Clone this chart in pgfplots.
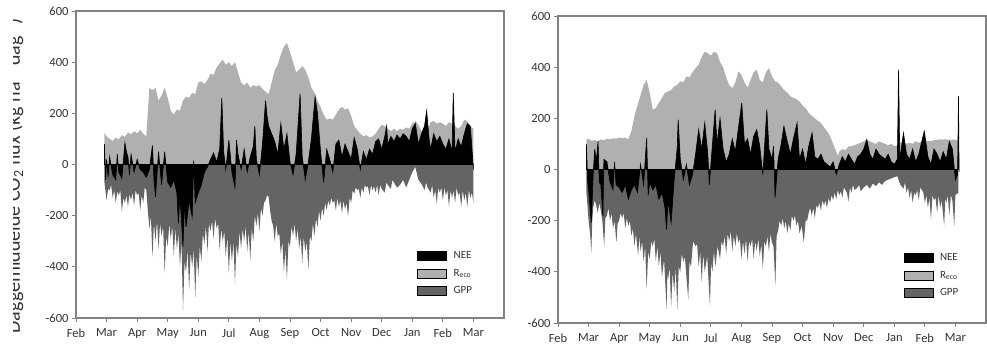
\documentclass[border=0pt]{standalone}
\usepackage{pgfplots}
\pgfplotsset{compat=1.18}
\usepackage{fontspec}
\setmainfont{Carlito}
\definecolor{reco}{RGB}{176,176,176}
\definecolor{gpp}{RGB}{100,100,100}
\definecolor{axgray}{RGB}{130,130,130}
\definecolor{txt}{RGB}{50,50,50}
\pgfplotsset{
  panel/.style={
    scale only axis, width=428pt, height=307pt,
    xmin=0, xmax=14, ymin=-600, ymax=600,
    xtick={0,...,13},
    xticklabels={Feb,Mar,Apr,May,Jun,Jul,Aug,Sep,Oct,Nov,Dec,Jan,Feb,Mar},
    ytick={-600,-400,...,600},
    axis line style={axgray, line width=1.3pt},
    tick style={axgray, line width=0.9pt},
    tick align=outside, major tick length=4pt,
    xtick pos=bottom, ytick pos=left,
    ticklabel style={font=\fontsize{12.5}{14}\selectfont, text=txt},
    /pgf/number format/assume math mode=true,
    xticklabel style={yshift=-3pt},
    legend style={draw=none, fill=none, font=\fontsize{11}{12}\selectfont, text=txt,
      row sep=5pt, column sep=5pt, cells={anchor=west}},
    legend image code/.code={\fill[##1] (0pt,-4.5pt) rectangle (29pt,4.5pt);},
  }
}
\begin{document}
\begin{tikzpicture}
\path[use as bounding box] (0,0) rectangle (987pt,353pt);
\begin{scope}
\clip (13pt,0pt) rectangle (60pt,353pt);
\node[rotate=90, anchor=base, font=\fontsize{20}{24}\selectfont, text=txt] at (20pt,177pt)
  {Daggemiddelde CO\textsubscript{2} flux (kg ha\textsuperscript{-1} dag\textsuperscript{-1})};
\end{scope}
% ---------------- left panel ----------------
\begin{axis}[panel, at={(76pt,35pt)}, anchor=south west,
  legend style={at={(0.79,0.06)}, anchor=south west}]
\addplot[fill=reco, draw=none, forget plot] coordinates {
(0.93,122)(1.0,110)(1.1,100)(1.2,92)(1.3,105)(1.4,98)(1.5,115)(1.6,108)(1.7,125)(1.8,118)(1.9,130)(2.0,122)(2.1,135)(2.2,120)(2.3,110)(2.4,300)(2.5,290)(2.6,300)(2.7,250)(2.8,270)(2.9,300)(3.0,260)(3.1,210)(3.2,195)(3.3,215)(3.4,210)(3.5,250)(3.6,265)(3.7,260)(3.8,280)(3.9,275)(4.0,320)(4.1,325)(4.2,315)(4.3,330)(4.4,355)(4.5,350)(4.6,380)(4.7,395)(4.8,410)(4.9,390)(5.0,400)(5.1,385)(5.2,400)(5.3,360)(5.4,320)(5.5,310)(5.6,320)(5.7,300)(5.8,310)(5.9,305)(6.0,310)(6.1,295)(6.2,285)(6.3,275)(6.4,320)(6.5,370)(6.6,390)(6.7,430)(6.8,460)(6.9,475)(7.0,440)(7.1,400)(7.2,360)(7.3,370)(7.4,385)(7.5,370)(7.6,340)(7.7,300)(7.8,280)(7.9,250)(8.0,225)(8.1,195)(8.2,175)(8.3,180)(8.4,175)(8.5,195)(8.6,215)(8.7,225)(8.8,215)(8.9,220)(9.0,190)(9.1,150)(9.2,135)(9.3,120)(9.4,110)(9.5,115)(9.6,105)(9.7,110)(9.8,120)(9.9,140)(10.0,155)(10.1,150)(10.2,140)(10.3,130)(10.4,140)(10.5,130)(10.6,140)(10.7,135)(10.8,145)(10.9,140)(11.0,160)(11.1,170)(11.2,155)(11.3,130)(11.4,140)(11.5,135)(11.6,165)(11.7,170)(11.8,160)(11.9,165)(12.0,160)(12.1,150)(12.2,165)(12.3,160)(12.4,150)(12.5,140)(12.6,150)(12.7,175)(12.8,170)(12.9,150)(13.0,140)
} \closedcycle;
\addplot[fill=gpp, draw=none, forget plot] coordinates {
(0.93,-70)(0.97,-110)(1.0,-140)(1.05,-95)(1.1,-100)(1.15,-80)(1.2,-130)(1.25,-100)(1.3,-150)(1.35,-105)(1.4,-120)(1.45,-100)(1.5,-185)(1.55,-130)(1.6,-150)(1.65,-120)(1.7,-165)(1.75,-115)(1.8,-140)(1.85,-110)(1.9,-160)(1.95,-100)(2.0,-120)(2.05,-110)(2.1,-180)(2.15,-120)(2.2,-150)(2.25,-90)(2.3,-100)(2.35,-180)(2.4,-250)(2.45,-200)(2.5,-360)(2.55,-230)(2.6,-300)(2.65,-220)(2.7,-330)(2.75,-230)(2.8,-280)(2.85,-240)(2.9,-425)(2.95,-280)(3.0,-320)(3.05,-230)(3.1,-290)(3.15,-240)(3.2,-360)(3.25,-250)(3.3,-330)(3.35,-270)(3.4,-400)(3.45,-300)(3.5,-570)(3.55,-380)(3.6,-420)(3.65,-330)(3.7,-490)(3.75,-340)(3.8,-400)(3.85,-330)(3.9,-520)(3.95,-350)(4.0,-440)(4.05,-320)(4.1,-380)(4.15,-270)(4.2,-310)(4.25,-240)(4.3,-340)(4.35,-230)(4.4,-260)(4.45,-220)(4.5,-290)(4.55,-210)(4.6,-250)(4.65,-230)(4.7,-335)(4.75,-250)(4.8,-300)(4.85,-260)(4.9,-360)(4.95,-280)(5.0,-425)(5.05,-300)(5.1,-380)(5.15,-300)(5.2,-465)(5.25,-310)(5.3,-360)(5.35,-260)(5.4,-330)(5.45,-250)(5.5,-300)(5.55,-240)(5.6,-340)(5.65,-260)(5.7,-375)(5.75,-250)(5.8,-300)(5.85,-200)(5.9,-240)(5.95,-190)(6.0,-260)(6.05,-170)(6.1,-200)(6.15,-150)(6.2,-140)(6.25,-120)(6.3,-126)(6.35,-180)(6.4,-220)(6.45,-240)(6.5,-300)(6.55,-230)(6.6,-280)(6.65,-270)(6.7,-350)(6.75,-300)(6.8,-420)(6.85,-330)(6.9,-450)(6.95,-300)(7.0,-320)(7.05,-240)(7.1,-280)(7.15,-230)(7.2,-300)(7.25,-250)(7.3,-330)(7.35,-280)(7.4,-386)(7.45,-280)(7.5,-340)(7.55,-300)(7.6,-412)(7.65,-280)(7.7,-300)(7.75,-230)(7.8,-280)(7.85,-210)(7.9,-245)(7.95,-180)(8.0,-220)(8.05,-170)(8.1,-200)(8.15,-150)(8.2,-178)(8.25,-140)(8.3,-160)(8.35,-130)(8.4,-150)(8.45,-140)(8.5,-180)(8.55,-130)(8.6,-165)(8.65,-140)(8.7,-190)(8.75,-140)(8.8,-175)(8.85,-150)(8.9,-204)(8.95,-130)(9.0,-150)(9.05,-100)(9.1,-115)(9.15,-90)(9.2,-100)(9.25,-95)(9.3,-130)(9.35,-90)(9.4,-110)(9.45,-80)(9.5,-90)(9.55,-85)(9.6,-120)(9.65,-80)(9.7,-100)(9.75,-85)(9.8,-110)(9.85,-80)(9.9,-120)(9.95,-80)(10.0,-95)(10.1,-110)(10.15,-70)(10.2,-80)(10.3,-95)(10.35,-60)(10.4,-70)(10.5,-90)(10.6,-80)(10.7,-60)(10.8,-90)(10.9,-60)(11.0,-30)(11.1,-10)(11.2,-60)(11.3,-75)(11.4,-100)(11.45,-70)(11.5,-90)(11.6,-110)(11.65,-80)(11.7,-130)(11.75,-100)(11.8,-152)(11.85,-90)(11.9,-110)(11.95,-90)(12.0,-140)(12.05,-90)(12.1,-120)(12.15,-100)(12.2,-165)(12.25,-100)(12.3,-130)(12.35,-100)(12.4,-150)(12.45,-90)(12.5,-120)(12.55,-110)(12.6,-165)(12.65,-100)(12.7,-140)(12.75,-110)(12.8,-165)(12.85,-100)(12.9,-130)(12.95,-110)(13.0,-150)
} \closedcycle;
\addplot[fill=black, draw=black, line width=0.6pt, forget plot] coordinates {
(0.93,80)(0.97,-60)(1.0,20)(1.05,-50)(1.1,30)(1.2,-40)(1.3,-60)(1.35,40)(1.4,-30)(1.5,-55)(1.6,85)(1.65,50)(1.7,30)(1.75,-40)(1.8,40)(1.9,-30)(2.0,20)(2.1,-20)(2.2,-30)(2.3,-50)(2.4,-20)(2.5,75)(2.55,-60)(2.6,-126)(2.7,50)(2.8,-80)(2.9,50)(3.0,-70)(3.1,-90)(3.2,-60)(3.3,-110)(3.35,-230)(3.4,-120)(3.5,-321)(3.55,-150)(3.6,-245)(3.7,-140)(3.8,-205)(3.85,15)(3.9,-150)(4.0,-110)(4.1,-80)(4.2,-30)(4.3,-10)(4.4,20)(4.5,45)(4.6,10)(4.7,60)(4.77,260)(4.83,50)(4.9,-20)(5.0,95)(5.1,-30)(5.2,-90)(5.25,95)(5.3,40)(5.4,-20)(5.5,60)(5.6,-30)(5.7,30)(5.8,70)(5.85,150)(5.9,20)(6.0,-40)(6.1,80)(6.2,250)(6.25,190)(6.3,150)(6.4,120)(6.5,90)(6.6,40)(6.7,160)(6.8,60)(6.9,120)(7.0,10)(7.1,-40)(7.2,40)(7.33,277)(7.4,30)(7.5,-60)(7.6,10)(7.7,100)(7.82,265)(7.9,200)(8.0,50)(8.1,-70)(8.2,60)(8.3,20)(8.4,-30)(8.5,80)(8.6,95)(8.7,30)(8.8,80)(8.9,50)(9.0,20)(9.1,105)(9.2,60)(9.3,-20)(9.4,50)(9.5,20)(9.6,60)(9.7,40)(9.8,90)(9.9,100)(10.0,60)(10.1,110)(10.16,150)(10.2,80)(10.3,110)(10.4,90)(10.5,115)(10.6,100)(10.7,120)(10.8,110)(10.9,90)(11.0,140)(11.1,160)(11.2,80)(11.3,120)(11.4,150)(11.47,210)(11.55,100)(11.6,60)(11.7,120)(11.8,90)(11.9,110)(12.0,80)(12.1,60)(12.2,100)(12.3,50)(12.34,280)(12.4,50)(12.5,100)(12.6,70)(12.7,120)(12.8,160)(12.9,150)(13.0,-20)
} \closedcycle;
\addlegendimage{fill=black}\addlegendentry{NEE}
\addlegendimage{fill=reco}\addlegendentry{R\textsubscript{eco}}
\addlegendimage{fill=gpp}\addlegendentry{GPP}
\end{axis}
% ---------------- right panel ----------------
\begin{axis}[panel, at={(558pt,30pt)}, anchor=south west,
  legend style={at={(0.80,0.07)}, anchor=south west}]
\addplot[fill=reco, draw=none, forget plot] coordinates {
(0.93,117)(1.0,120)(1.1,112)(1.2,115)(1.3,110)(1.4,118)(1.5,115)(1.6,120)(1.7,118)(1.8,122)(1.9,120)(2.0,125)(2.1,122)(2.2,125)(2.3,118)(2.4,150)(2.5,208)(2.6,250)(2.7,290)(2.8,330)(2.9,350)(3.0,300)(3.1,234)(3.2,240)(3.3,260)(3.4,280)(3.5,300)(3.6,305)(3.7,310)(3.8,325)(3.9,330)(4.0,345)(4.1,340)(4.2,364)(4.3,360)(4.4,380)(4.5,396)(4.6,410)(4.7,440)(4.8,460)(4.9,455)(5.0,445)(5.1,460)(5.2,455)(5.3,420)(5.4,400)(5.5,360)(5.6,330)(5.7,318)(5.8,340)(5.9,383)(6.0,370)(6.1,340)(6.2,320)(6.3,350)(6.4,380)(6.5,390)(6.6,350)(6.7,340)(6.8,380)(6.9,396)(7.0,364)(7.1,345)(7.2,340)(7.3,325)(7.4,310)(7.5,300)(7.6,286)(7.7,280)(7.8,275)(7.9,265)(8.0,250)(8.1,240)(8.2,221)(8.3,210)(8.4,200)(8.5,190)(8.6,182)(8.7,165)(8.8,150)(8.9,130)(9.0,100)(9.1,70)(9.15,52)(9.2,70)(9.3,80)(9.4,75)(9.5,90)(9.6,91)(9.7,95)(9.8,100)(9.9,104)(10.0,110)(10.1,117)(10.2,110)(10.3,105)(10.4,100)(10.5,110)(10.6,105)(10.7,100)(10.8,95)(10.9,100)(11.0,92)(11.1,91)(11.2,105)(11.3,110)(11.4,100)(11.5,105)(11.6,100)(11.7,110)(11.8,105)(11.9,108)(12.0,110)(12.1,112)(12.2,110)(12.3,115)(12.4,115)(12.5,118)(12.6,117)(12.7,118)(12.8,115)(12.9,117)(13.0,117)(13.1,110)
} \closedcycle;
\addplot[fill=gpp, draw=none, forget plot] coordinates {
(0.93,-91)(0.97,-150)(1.0,-200)(1.05,-250)(1.09,-325)(1.12,-200)(1.15,-150)(1.2,-120)(1.25,-140)(1.3,-170)(1.35,-130)(1.4,-160)(1.45,-200)(1.51,-300)(1.55,-190)(1.6,-180)(1.65,-150)(1.7,-200)(1.75,-170)(1.8,-230)(1.85,-200)(1.91,-286)(1.95,-210)(2.0,-200)(2.05,-170)(2.1,-190)(2.15,-170)(2.2,-230)(2.25,-190)(2.3,-220)(2.35,-200)(2.4,-260)(2.45,-230)(2.5,-300)(2.55,-250)(2.62,-338)(2.66,-260)(2.7,-320)(2.75,-280)(2.8,-360)(2.85,-300)(2.9,-468)(2.95,-320)(3.0,-350)(3.05,-280)(3.1,-300)(3.15,-270)(3.2,-360)(3.25,-300)(3.3,-380)(3.35,-320)(3.4,-420)(3.47,-350)(3.55,-546)(3.58,-400)(3.6,-430)(3.65,-380)(3.7,-540)(3.75,-400)(3.8,-480)(3.85,-380)(3.9,-546)(3.95,-380)(4.0,-400)(4.05,-330)(4.1,-360)(4.15,-340)(4.2,-420)(4.26,-507)(4.3,-360)(4.35,-380)(4.42,-280)(4.5,-300)(4.55,-290)(4.6,-380)(4.65,-320)(4.7,-440)(4.75,-330)(4.8,-400)(4.88,-340)(4.97,-533)(5.01,-360)(5.05,-400)(5.1,-320)(5.15,-380)(5.22,-300)(5.3,-350)(5.35,-280)(5.4,-300)(5.45,-260)(5.5,-330)(5.55,-250)(5.6,-280)(5.65,-240)(5.7,-320)(5.75,-260)(5.8,-300)(5.85,-250)(5.9,-286)(5.95,-270)(6.0,-350)(6.05,-280)(6.1,-330)(6.15,-270)(6.2,-360)(6.25,-280)(6.3,-300)(6.35,-270)(6.4,-350)(6.45,-280)(6.5,-320)(6.55,-270)(6.6,-340)(6.65,-290)(6.7,-390)(6.75,-280)(6.8,-300)(6.85,-260)(6.9,-320)(6.95,-250)(7.0,-286)(7.05,-300)(7.11,-455)(7.15,-260)(7.2,-240)(7.25,-200)(7.3,-220)(7.35,-190)(7.4,-230)(7.45,-200)(7.5,-250)(7.55,-210)(7.6,-240)(7.65,-180)(7.7,-200)(7.75,-180)(7.8,-220)(7.85,-200)(7.9,-250)(7.97,-220)(8.04,-286)(8.1,-200)(8.15,-200)(8.2,-169)(8.25,-150)(8.3,-180)(8.35,-150)(8.4,-190)(8.45,-140)(8.5,-150)(8.55,-130)(8.6,-160)(8.65,-120)(8.7,-140)(8.75,-120)(8.8,-150)(8.85,-110)(8.9,-130)(8.95,-100)(9.0,-120)(9.05,-90)(9.1,-117)(9.15,-80)(9.2,-100)(9.25,-85)(9.3,-110)(9.35,-70)(9.4,-80)(9.45,-90)(9.5,-125)(9.55,-70)(9.6,-90)(9.65,-60)(9.7,-80)(9.8,-70)(9.85,-60)(9.9,-85)(10.0,-70)(10.1,-60)(10.2,-75)(10.3,-55)(10.4,-65)(10.5,-50)(10.6,-60)(10.7,-45)(10.8,-40)(10.9,-35)(11.0,-30)(11.1,-26)(11.2,-60)(11.3,-75)(11.35,-50)(11.4,-90)(11.45,-70)(11.5,-110)(11.55,-80)(11.6,-130)(11.65,-90)(11.7,-100)(11.75,-80)(11.8,-120)(11.85,-70)(11.9,-80)(11.95,-90)(12.0,-130)(12.05,-100)(12.1,-150)(12.15,-110)(12.2,-195)(12.25,-100)(12.3,-120)(12.35,-110)(12.4,-170)(12.45,-100)(12.5,-150)(12.55,-120)(12.63,-221)(12.67,-110)(12.7,-130)(12.75,-100)(12.8,-180)(12.85,-100)(12.9,-120)(12.96,-221)(13.0,-100)(13.1,-90)
} \closedcycle;
\addplot[fill=black, draw=black, line width=0.6pt, forget plot] coordinates {
(0.93,98)(0.97,-50)(1.0,-80)(1.09,-208)(1.15,-20)(1.2,80)(1.25,30)(1.31,110)(1.35,-50)(1.4,-60)(1.47,-182)(1.5,40)(1.6,30)(1.7,-50)(1.8,-80)(1.85,30)(1.9,-60)(2.0,-70)(2.1,-90)(2.2,-60)(2.3,-117)(2.4,-80)(2.5,-60)(2.6,-90)(2.7,20)(2.8,-60)(2.9,124)(2.95,-100)(3.0,-50)(3.1,-80)(3.2,-60)(3.3,-117)(3.4,-90)(3.5,-150)(3.55,-234)(3.6,-120)(3.7,-208)(3.8,-40)(3.9,85)(3.93,195)(4.0,40)(4.1,-40)(4.2,20)(4.3,-60)(4.4,-20)(4.5,60)(4.6,156)(4.7,80)(4.8,182)(4.9,60)(4.95,-60)(5.0,20)(5.14,234)(5.2,100)(5.3,200)(5.4,80)(5.5,30)(5.6,60)(5.7,120)(5.8,70)(6.01,260)(6.1,100)(6.2,120)(6.3,60)(6.4,130)(6.5,156)(6.6,90)(6.7,-20)(6.83,234)(6.9,80)(7.0,40)(7.05,91)(7.1,-110)(7.2,40)(7.3,100)(7.39,169)(7.5,110)(7.6,60)(7.7,120)(7.82,182)(7.9,40)(8.0,80)(8.1,20)(8.2,90)(8.31,143)(8.4,50)(8.5,40)(8.6,60)(8.7,30)(8.8,20)(8.9,10)(9.0,30)(9.1,-20)(9.2,20)(9.3,50)(9.4,30)(9.5,60)(9.6,40)(9.7,20)(9.8,50)(9.9,60)(10.0,80)(10.1,117)(10.2,60)(10.3,40)(10.4,80)(10.5,60)(10.6,50)(10.7,40)(10.8,60)(10.9,30)(11.0,20)(11.1,40)(11.14,390)(11.18,40)(11.3,143)(11.4,60)(11.5,40)(11.6,80)(11.7,30)(11.8,60)(11.98,150)(12.1,50)(12.2,20)(12.3,80)(12.4,60)(12.5,30)(12.6,70)(12.7,40)(12.8,110)(12.9,80)(13.0,-40)(13.07,-20)(13.1,286)(13.12,-10)
} \closedcycle;
\addlegendimage{fill=black}\addlegendentry{NEE}
\addlegendimage{fill=reco}\addlegendentry{R\textsubscript{eco}}
\addlegendimage{fill=gpp}\addlegendentry{GPP}
\end{axis}
\end{tikzpicture}
\end{document}
